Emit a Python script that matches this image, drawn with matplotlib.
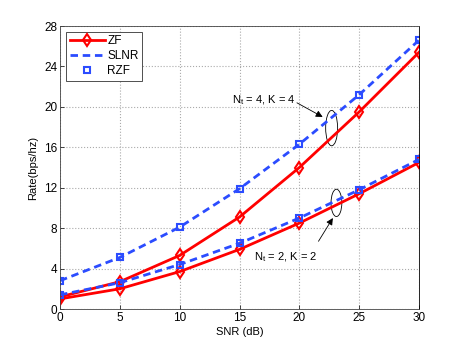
import matplotlib
matplotlib.use('Agg')
import matplotlib.pyplot as plt
from matplotlib.patches import Ellipse

snr = [0, 5, 10, 15, 20, 25, 30]

# Nt = 4, K = 4
zf_4 = [1.2, 2.7, 5.3, 9.1, 14.0, 19.5, 25.4]
slnr_4 = [2.8, 5.1, 8.1, 11.9, 16.3, 21.2, 26.6]
rzf_4 = [2.8, 5.1, 8.1, 11.9, 16.3, 21.2, 26.6]

# Nt = 2, K = 2
zf_2 = [1.0, 2.0, 3.7, 5.9, 8.5, 11.4, 14.5]
slnr_2 = [1.4, 2.6, 4.4, 6.5, 9.0, 11.8, 14.8]
rzf_2 = [1.4, 2.6, 4.4, 6.5, 9.0, 11.8, 14.8]

yticks = [0, 4, 8, 12, 16, 20, 24, 28]
xticks = [0, 5, 10, 15, 20, 25, 30]

red = '#ff0000'
blue = '#2b4cff'
dash = (0, (2.7, 1.7))

plt.rcParams['font.family'] = 'Liberation Sans'
fig = plt.figure(figsize=(4.63, 3.49), dpi=100)
ax = fig.add_axes([60/463, 1 - 309/349, 359/463, 283/349])

ax.plot(snr, zf_4, color=red, lw=2, marker='d', ms=6.5, mfc='none', mew=1.5, label='ZF')
ax.plot(snr, slnr_4, color=blue, lw=2, ls=dash, label='SLNR')
ax.plot(snr, rzf_4, ls='none', marker='s', ms=5, mfc='none', mec=blue, mew=1.5, label='RZF')
ax.plot(snr, zf_2, color=red, lw=2, marker='d', ms=6.5, mfc='none', mew=1.5)
ax.plot(snr, slnr_2, color=blue, lw=2, ls=dash)
ax.plot(snr, rzf_2, ls='none', marker='s', ms=5, mfc='none', mec=blue, mew=1.5)

ax.set_xlim(0, 30)
ax.set_ylim(0, 28)
ax.set_xticks(xticks)
ax.set_yticks(yticks)
ax.tick_params(labelsize=8.5, direction='in', length=3, width=0.5, pad=2)
ax.grid(True, ls=':', color='#aaaaaa', lw=0.8)
for s in ax.spines.values():
    s.set_linewidth(0.6)
    s.set_color('#444444')
ax.spines['right'].set_color('black')
ax.set_xlabel('SNR (dB)', fontsize=8, labelpad=2)
ax.set_ylabel('Rate(bps/hz)', fontsize=8, labelpad=4)

leg = ax.legend(loc='upper left', fontsize=8.5, fancybox=False, edgecolor='#333333',
                framealpha=1, handlelength=3.0, handletextpad=0.2, borderpad=0.3,
                labelspacing=0.25, borderaxespad=0, bbox_to_anchor=(0.017, 0.979))
leg.get_frame().set_linewidth(0.6)

ax.add_patch(Ellipse((22.7, 17.9), 1.0, 3.5, fill=False, ec='black', lw=0.6))
ax.add_patch(Ellipse((23.1, 10.5), 0.9, 2.7, fill=False, ec='black', lw=0.6))

ax.text(17.05, 20.7, 'N$_\\mathregular{t}$ = 4, K = 4', fontsize=8, ha='center', va='center')
ax.text(18.9, 5.1, 'N$_\\mathregular{t}$ = 2, K = 2', fontsize=8, ha='center', va='center')
arrow = dict(arrowstyle='-|>', color='black', lw=0.6, mutation_scale=10, shrinkA=0, shrinkB=0)
ax.annotate('', xy=(21.95, 19.0), xytext=(19.8, 20.4), arrowprops=arrow)
ax.annotate('', xy=(22.8, 9.0), xytext=(21.6, 6.7), arrowprops=arrow)

fig.savefig('out.png', dpi=100)
